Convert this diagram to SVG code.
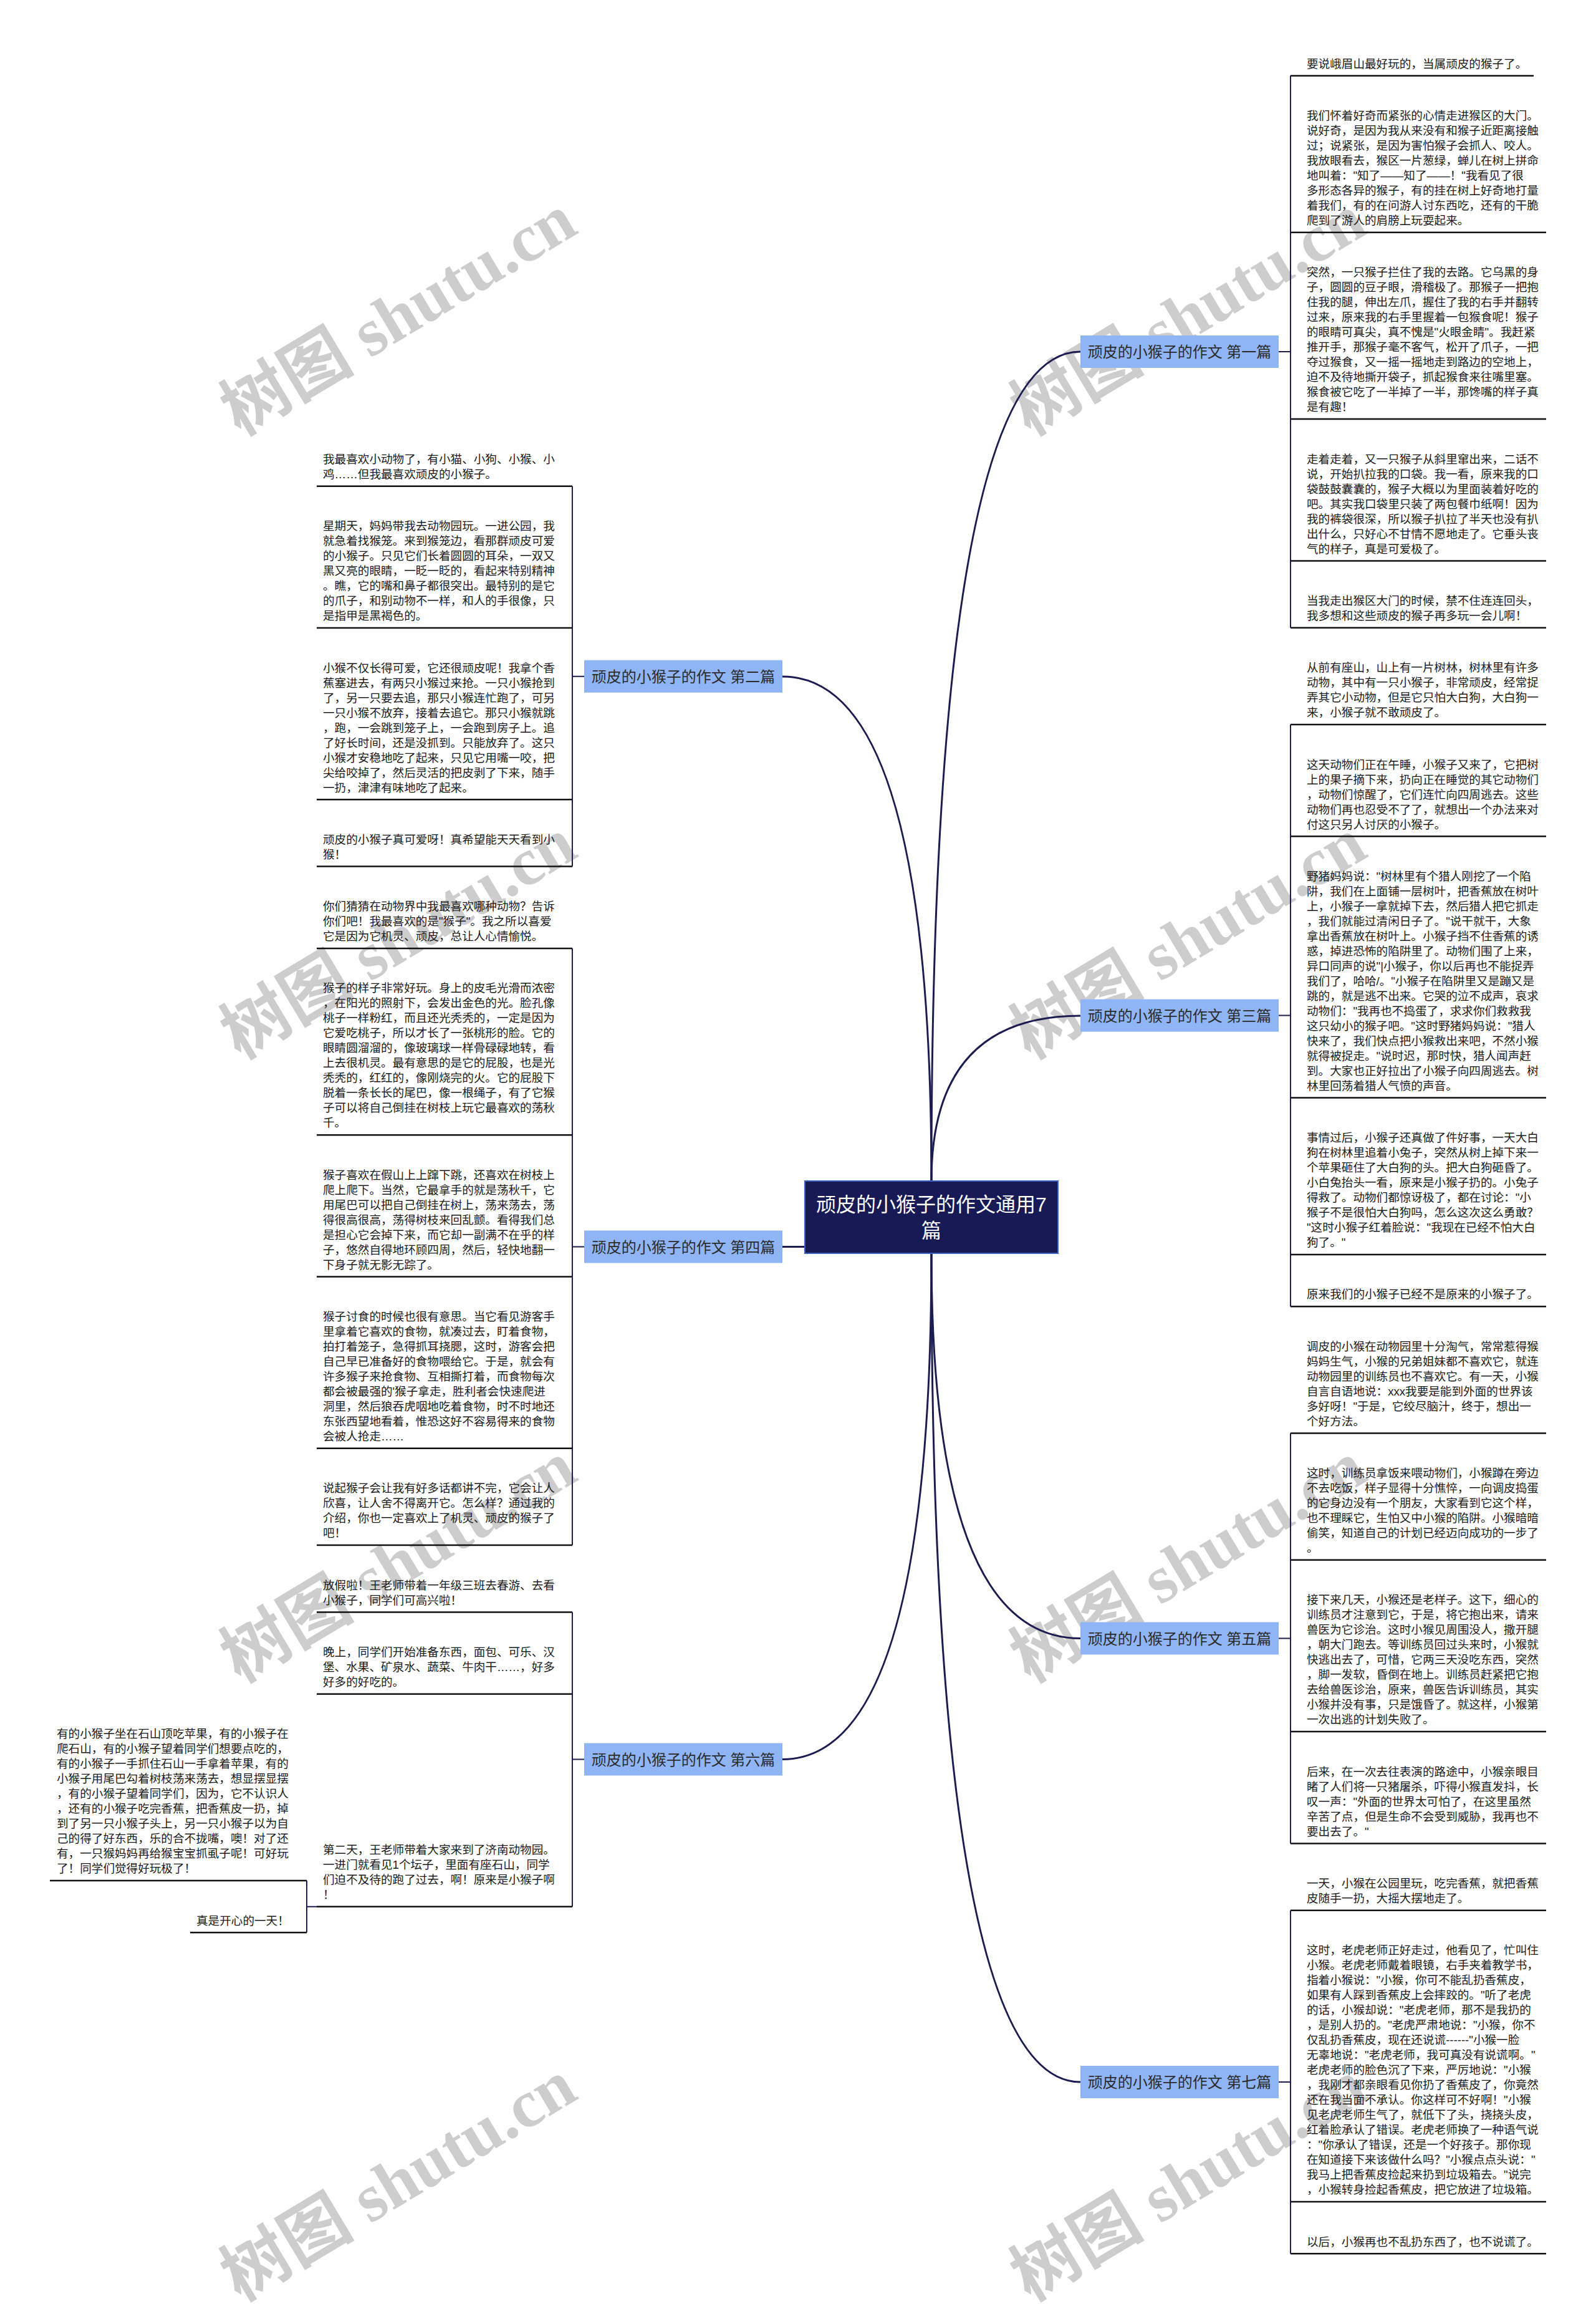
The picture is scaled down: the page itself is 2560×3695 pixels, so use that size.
<svg xmlns="http://www.w3.org/2000/svg" width="2560" height="3695" viewBox="0 0 2560 3695">
<style>
.t{font-family:"Liberation Sans","Noto Sans CJK SC",sans-serif;font-size:18.6px;fill:#1a1a1a}
.b{font-family:"Liberation Sans","Noto Sans CJK SC",sans-serif;font-size:24px;fill:#2b2b2b;text-anchor:middle}
.c{font-family:"Liberation Sans","Noto Sans CJK SC",sans-serif;font-size:32px;fill:#ffffff;text-anchor:middle}
.ul{stroke:#111111;stroke-width:2.5;fill:none}
.br{stroke:#1b1c50;stroke-width:2;fill:none}
.cv{stroke:#1b1c50;stroke-width:3;fill:none}
.bx{fill:#8fb5f6}
.wm{font-family:"Liberation Serif","Noto Sans CJK SC",serif;font-size:108px;font-weight:bold;fill:#cdcdcd}
</style>
<rect width="2560" height="3695" fill="#ffffff"/>
<g id="watermarks">
<text class="wm" transform="translate(385,700) rotate(-31)">树图 shutu.cn</text>
<text class="wm" transform="translate(1652,700) rotate(-31)">树图 shutu.cn</text>
<text class="wm" transform="translate(385,1700) rotate(-31)">树图 shutu.cn</text>
<text class="wm" transform="translate(1652,1700) rotate(-31)">树图 shutu.cn</text>
<text class="wm" transform="translate(385,2700) rotate(-31)">树图 shutu.cn</text>
<text class="wm" transform="translate(1652,2700) rotate(-31)">树图 shutu.cn</text>
<text class="wm" transform="translate(385,3692) rotate(-31)">树图 shutu.cn</text>
<text class="wm" transform="translate(1652,3692) rotate(-31)">树图 shutu.cn</text>
</g>
<g id="connectors">
<path class="cv" d="M1494,1894 C1494,1007 1574,564 1733,564"/>
<path class="cv" d="M1494,1894 C1494,1354 1414,1085 1255,1085"/>
<path class="cv" d="M1494,1894 C1494,1717 1574,1629 1733,1629"/>
<path class="cv" d="M1255,1999.5 L1291,1999.5"/>
<path class="cv" d="M1494,2010 C1494,2422 1574,2627.5 1733,2627.5"/>
<path class="cv" d="M1494,2010 C1494,2551 1414,2821.5 1255,2821.5"/>
<path class="cv" d="M1494,2010 C1494,2896 1574,3339 1733,3339"/>
<path class="br" d="M2051,564 H2070 M2070,121.5 V1006.7"/>
<path class="br" d="M2051,1628.6 H2070 M2070,1162 V2095.2"/>
<path class="br" d="M2051,2627.5 H2070 M2070,2298.5 V2956.4"/>
<path class="br" d="M2051,3339 H2070 M2070,3063.7 V3614.3"/>
<path class="br" d="M937,1084.7 H918 M918,779.7 V1389.6"/>
<path class="br" d="M937,1999.5 H918 M918,1520.9 V2478.1"/>
<path class="br" d="M937,2821.5 H918 M918,2585.4 V3057.7"/>
<path class="br" d="M508,3057.7 H492 M492,3016 V3099.3"/>
</g>
<g id="center">
<rect x="1291" y="1894" width="406" height="116" fill="#171a55" stroke="#3f5fc0" stroke-width="2"/>
<text class="c" x="1494" y="1943">顽皮的小猴子的作文通用7</text>
<text class="c" x="1494" y="1985">篇</text>
</g>
<g id="branch1"><rect class="bx" x="1733" y="538" width="318" height="52"/><text class="b" x="1892" y="573">顽皮的小猴子的作文 第一篇</text></g>
<g id="branch2"><rect class="bx" x="937" y="1058.7" width="318" height="52"/><text class="b" x="1096" y="1093.7">顽皮的小猴子的作文 第二篇</text></g>
<g id="branch3"><rect class="bx" x="1733" y="1602.6" width="318" height="52"/><text class="b" x="1892" y="1637.6">顽皮的小猴子的作文 第三篇</text></g>
<g id="branch4"><rect class="bx" x="937" y="1973.5" width="318" height="52"/><text class="b" x="1096" y="2008.5">顽皮的小猴子的作文 第四篇</text></g>
<g id="branch5"><rect class="bx" x="1733" y="2601.5" width="318" height="52"/><text class="b" x="1892" y="2636.5">顽皮的小猴子的作文 第五篇</text></g>
<g id="branch6"><rect class="bx" x="937" y="2795.5" width="318" height="52"/><text class="b" x="1096" y="2830.5">顽皮的小猴子的作文 第六篇</text></g>
<g id="branch7"><rect class="bx" x="1733" y="3313" width="318" height="52"/><text class="b" x="1892" y="3348">顽皮的小猴子的作文 第七篇</text></g>

<g id="r1"><text class="t" x="2096" y="108.7">要说峨眉山最好玩的，当属顽皮的猴子了。</text><path class="ul" d="M2070,121.5 H2460"/></g>
<g id="r2"><text class="t" x="2096" y="192"><tspan x="2096">我们怀着好奇而紧张的心情走进猴区的大门。</tspan><tspan x="2096" dy="24">说好奇，是因为我从来没有和猴子近距离接触</tspan><tspan x="2096" dy="24">过；说紧张，是因为害怕猴子会抓人、咬人。</tspan><tspan x="2096" dy="24">我放眼看去，猴区一片葱绿，蝉儿在树上拼命</tspan><tspan x="2096" dy="24">地叫着："知了——知了——！"我看见了很</tspan><tspan x="2096" dy="24">多形态各异的猴子，有的挂在树上好奇地打量</tspan><tspan x="2096" dy="24">着我们，有的在问游人讨东西吃，还有的干脆</tspan><tspan x="2096" dy="24">爬到了游人的肩膀上玩耍起来。</tspan></text><path class="ul" d="M2070,372.8 H2480"/></g>
<g id="r3"><text class="t" x="2096" y="443.3"><tspan x="2096">突然，一只猴子拦住了我的去路。它乌黑的身</tspan><tspan x="2096" dy="24">子，圆圆的豆子眼，滑稽极了。那猴子一把抱</tspan><tspan x="2096" dy="24">住我的腿，伸出左爪，握住了我的右手并翻转</tspan><tspan x="2096" dy="24">过来，原来我的右手里握着一包猴食呢！猴子</tspan><tspan x="2096" dy="24">的眼睛可真尖，真不愧是"火眼金睛"。我赶紧</tspan><tspan x="2096" dy="24">推开手，那猴子毫不客气，松开了爪子，一把</tspan><tspan x="2096" dy="24">夺过猴食，又一摇一摇地走到路边的空地上，</tspan><tspan x="2096" dy="24">迫不及待地撕开袋子，抓起猴食来往嘴里塞。</tspan><tspan x="2096" dy="24">猴食被它吃了一半掉了一半，那馋嘴的样子真</tspan><tspan x="2096" dy="24">是有趣！</tspan></text><path class="ul" d="M2070,672.1 H2480"/></g>
<g id="r4"><text class="t" x="2096" y="742.6"><tspan x="2096">走着走着，又一只猴子从斜里窜出来，二话不</tspan><tspan x="2096" dy="24">说，开始扒拉我的口袋。我一看，原来我的口</tspan><tspan x="2096" dy="24">袋鼓鼓囊囊的，猴子大概以为里面装着好吃的</tspan><tspan x="2096" dy="24">吧。其实我口袋里只装了两包餐巾纸啊！因为</tspan><tspan x="2096" dy="24">我的裤袋很深，所以猴子扒拉了半天也没有扒</tspan><tspan x="2096" dy="24">出什么，只好心不甘情不愿地走了。它垂头丧</tspan><tspan x="2096" dy="24">气的样子，真是可爱极了。</tspan></text><path class="ul" d="M2070,899.4 H2480"/></g>
<g id="r5"><text class="t" x="2096" y="969.9"><tspan x="2096">当我走出猴区大门的时候，禁不住连连回头，</tspan><tspan x="2096" dy="24">我多想和这些顽皮的猴子再多玩一会儿啊！</tspan></text><path class="ul" d="M2070,1006.7 H2480"/></g>
<g id="r6"><text class="t" x="2096" y="1077.2"><tspan x="2096">从前有座山，山上有一片树林，树林里有许多</tspan><tspan x="2096" dy="24">动物，其中有一只小猴子，非常顽皮，经常捉</tspan><tspan x="2096" dy="24">弄其它小动物，但是它只怕大白狗，大白狗一</tspan><tspan x="2096" dy="24">来，小猴子就不敢顽皮了。</tspan></text><path class="ul" d="M2070,1162 H2480"/></g>
<g id="r7"><text class="t" x="2096" y="1232.5"><tspan x="2096">这天动物们正在午睡，小猴子又来了，它把树</tspan><tspan x="2096" dy="24">上的果子摘下来，扔向正在睡觉的其它动物们</tspan><tspan x="2096" dy="24">，动物们惊醒了，它们连忙向四周逃去。这些</tspan><tspan x="2096" dy="24">动物们再也忍受不了了，就想出一个办法来对</tspan><tspan x="2096" dy="24">付这只另人讨厌的小猴子。</tspan></text><path class="ul" d="M2070,1341.3 H2480"/></g>
<g id="r8"><text class="t" x="2096" y="1411.8"><tspan x="2096">野猪妈妈说："树林里有个猎人刚挖了一个陷</tspan><tspan x="2096" dy="24">阱，我们在上面铺一层树叶，把香蕉放在树叶</tspan><tspan x="2096" dy="24">上，小猴子一拿就掉下去，然后猎人把它抓走</tspan><tspan x="2096" dy="24">，我们就能过清闲日子了。"说干就干，大象</tspan><tspan x="2096" dy="24">拿出香蕉放在树叶上。小猴子挡不住香蕉的诱</tspan><tspan x="2096" dy="24">惑，掉进恐怖的陷阱里了。动物们围了上来，</tspan><tspan x="2096" dy="24">异口同声的说"|小猴子，你以后再也不能捉弄</tspan><tspan x="2096" dy="24">我们了，哈哈/。"小猴子在陷阱里又是蹦又是</tspan><tspan x="2096" dy="24">跳的，就是逃不出来。它哭的泣不成声，哀求</tspan><tspan x="2096" dy="24">动物们："我再也不捣蛋了，求求你们救救我</tspan><tspan x="2096" dy="24">这只幼小的猴子吧。"这时野猪妈妈说："猎人</tspan><tspan x="2096" dy="24">快来了，我们快点把小猴救出来吧，不然小猴</tspan><tspan x="2096" dy="24">就得被捉走。"说时迟，那时快，猎人闻声赶</tspan><tspan x="2096" dy="24">到。大家也正好拉出了小猴子向四周逃去。树</tspan><tspan x="2096" dy="24">林里回荡着猎人气愤的声音。</tspan></text><path class="ul" d="M2070,1760.6 H2480"/></g>
<g id="r9"><text class="t" x="2096" y="1831.1"><tspan x="2096">事情过后，小猴子还真做了件好事，一天大白</tspan><tspan x="2096" dy="24">狗在树林里追着小兔子，突然从树上掉下来一</tspan><tspan x="2096" dy="24">个苹果砸住了大白狗的头。把大白狗砸昏了。</tspan><tspan x="2096" dy="24">小白兔抬头一看，原来是小猴子扔的。小兔子</tspan><tspan x="2096" dy="24">得救了。动物们都惊讶极了，都在讨论："小</tspan><tspan x="2096" dy="24">猴子不是很怕大白狗吗，怎么这次这么勇敢？</tspan><tspan x="2096" dy="24">"这时小猴子红着脸说："我现在已经不怕大白</tspan><tspan x="2096" dy="24">狗了。"</tspan></text><path class="ul" d="M2070,2011.9 H2480"/></g>
<g id="r10"><text class="t" x="2096" y="2082.4">原来我们的小猴子已经不是原来的小猴子了。</text><path class="ul" d="M2070,2095.2 H2480"/></g>
<g id="r11"><text class="t" x="2096" y="2165.7"><tspan x="2096">调皮的小猴在动物园里十分淘气，常常惹得猴</tspan><tspan x="2096" dy="24">妈妈生气，小猴的兄弟姐妹都不喜欢它，就连</tspan><tspan x="2096" dy="24">动物园里的训练员也不喜欢它。有一天，小猴</tspan><tspan x="2096" dy="24">自言自语地说：xxx我要是能到外面的世界该</tspan><tspan x="2096" dy="24">多好呀！"于是，它绞尽脑汁，终于，想出一</tspan><tspan x="2096" dy="24">个好方法。</tspan></text><path class="ul" d="M2070,2298.5 H2480"/></g>
<g id="r12"><text class="t" x="2096" y="2369"><tspan x="2096">这时，训练员拿饭来喂动物们，小猴蹲在旁边</tspan><tspan x="2096" dy="24">不去吃饭，样子显得十分憔悴，一向调皮捣蛋</tspan><tspan x="2096" dy="24">的它身边没有一个朋友，大家看到它这个样，</tspan><tspan x="2096" dy="24">也不理睬它，生怕又中小猴的陷阱。小猴暗暗</tspan><tspan x="2096" dy="24">偷笑，知道自己的计划已经迈向成功的一步了</tspan><tspan x="2096" dy="24">。</tspan></text><path class="ul" d="M2070,2501.8 H2480"/></g>
<g id="r13"><text class="t" x="2096" y="2572.3"><tspan x="2096">接下来几天，小猴还是老样子。这下，细心的</tspan><tspan x="2096" dy="24">训练员才注意到它，于是，将它抱出来，请来</tspan><tspan x="2096" dy="24">兽医为它诊治。这时小猴见周围没人，撒开腿</tspan><tspan x="2096" dy="24">，朝大门跑去。等训练员回过头来时，小猴就</tspan><tspan x="2096" dy="24">快逃出去了，可惜，它两三天没吃东西，突然</tspan><tspan x="2096" dy="24">，脚一发软，昏倒在地上。训练员赶紧把它抱</tspan><tspan x="2096" dy="24">去给兽医诊治，原来，兽医告诉训练员，其实</tspan><tspan x="2096" dy="24">小猴并没有事，只是饿昏了。就这样，小猴第</tspan><tspan x="2096" dy="24">一次出逃的计划失败了。</tspan></text><path class="ul" d="M2070,2777.1 H2480"/></g>
<g id="r14"><text class="t" x="2096" y="2847.6"><tspan x="2096">后来，在一次去往表演的路途中，小猴亲眼目</tspan><tspan x="2096" dy="24">睹了人们将一只猪屠杀，吓得小猴直发抖，长</tspan><tspan x="2096" dy="24">叹一声："外面的世界太可怕了，在这里虽然</tspan><tspan x="2096" dy="24">辛苦了点，但是生命不会受到威胁，我再也不</tspan><tspan x="2096" dy="24">要出去了。"</tspan></text><path class="ul" d="M2070,2956.4 H2480"/></g>
<g id="r15"><text class="t" x="2096" y="3026.9"><tspan x="2096">一天，小猴在公园里玩，吃完香蕉，就把香蕉</tspan><tspan x="2096" dy="24">皮随手一扔，大摇大摆地走了。</tspan></text><path class="ul" d="M2070,3063.7 H2480"/></g>
<g id="r16"><text class="t" x="2096" y="3134.2"><tspan x="2096">这时，老虎老师正好走过，他看见了，忙叫住</tspan><tspan x="2096" dy="24">小猴。老虎老师戴着眼镜，右手夹着教学书，</tspan><tspan x="2096" dy="24">指着小猴说："小猴，你可不能乱扔香蕉皮，</tspan><tspan x="2096" dy="24">如果有人踩到香蕉皮上会摔跤的。"听了老虎</tspan><tspan x="2096" dy="24">的话，小猴却说："老虎老师，那不是我扔的</tspan><tspan x="2096" dy="24">，是别人扔的。"老虎严肃地说："小猴，你不</tspan><tspan x="2096" dy="24">仅乱扔香蕉皮，现在还说谎------"小猴一脸</tspan><tspan x="2096" dy="24">无辜地说："老虎老师，我可真没有说谎啊。"</tspan><tspan x="2096" dy="24">老虎老师的脸色沉了下来，严厉地说："小猴</tspan><tspan x="2096" dy="24">，我刚才都亲眼看见你扔了香蕉皮了，你竟然</tspan><tspan x="2096" dy="24">还在我当面不承认。你这样可不好啊！"小猴</tspan><tspan x="2096" dy="24">见老虎老师生气了，就低下了头，挠挠头皮，</tspan><tspan x="2096" dy="24">红着脸承认了错误。老虎老师换了一种语气说</tspan><tspan x="2096" dy="24">："你承认了错误，还是一个好孩子。那你现</tspan><tspan x="2096" dy="24">在知道接下来该做什么吗？"小猴点点头说："</tspan><tspan x="2096" dy="24">我马上把香蕉皮捡起来扔到垃圾箱去。"说完</tspan><tspan x="2096" dy="24">，小猴转身捡起香蕉皮，把它放进了垃圾箱。</tspan></text><path class="ul" d="M2070,3531 H2480"/></g>
<g id="r17"><text class="t" x="2096" y="3601.5">以后，小猴再也不乱扔东西了，也不说谎了。</text><path class="ul" d="M2070,3614.3 H2480"/></g>

<g id="l1"><text class="t" x="518" y="742.9"><tspan x="518">我最喜欢小动物了，有小猫、小狗、小猴、小</tspan><tspan x="518" dy="24">鸡……但我最喜欢顽皮的小猴子。</tspan></text><path class="ul" d="M508,779.7 H918"/></g>
<g id="l2"><text class="t" x="518" y="850.2"><tspan x="518">星期天，妈妈带我去动物园玩。一进公园，我</tspan><tspan x="518" dy="24">就急着找猴笼。来到猴笼边，看那群顽皮可爱</tspan><tspan x="518" dy="24">的小猴子。只见它们长着圆圆的耳朵，一双又</tspan><tspan x="518" dy="24">黑又亮的眼睛，一眨一眨的，看起来特别精神</tspan><tspan x="518" dy="24">。瞧，它的嘴和鼻子都很突出。最特别的是它</tspan><tspan x="518" dy="24">的爪子，和别动物不一样，和人的手很像，只</tspan><tspan x="518" dy="24">是指甲是黑褐色的。</tspan></text><path class="ul" d="M508,1007 H918"/></g>
<g id="l3"><text class="t" x="518" y="1077.5"><tspan x="518">小猴不仅长得可爱，它还很顽皮呢！我拿个香</tspan><tspan x="518" dy="24">蕉塞进去，有两只小猴过来抢。一只小猴抢到</tspan><tspan x="518" dy="24">了，另一只要去追，那只小猴连忙跑了，可另</tspan><tspan x="518" dy="24">一只小猴不放弃，接着去追它。那只小猴就跳</tspan><tspan x="518" dy="24">，跑，一会跳到笼子上，一会跑到房子上。追</tspan><tspan x="518" dy="24">了好长时间，还是没抓到。只能放弃了。这只</tspan><tspan x="518" dy="24">小猴才安稳地吃了起来，只见它用嘴一咬，把</tspan><tspan x="518" dy="24">尖给咬掉了，然后灵活的把皮剥了下来，随手</tspan><tspan x="518" dy="24">一扔，津津有味地吃了起来。</tspan></text><path class="ul" d="M508,1282.3 H918"/></g>
<g id="l4"><text class="t" x="518" y="1352.8"><tspan x="518">顽皮的小猴子真可爱呀！真希望能天天看到小</tspan><tspan x="518" dy="24">猴！</tspan></text><path class="ul" d="M508,1389.6 H918"/></g>
<g id="l5"><text class="t" x="518" y="1460.1"><tspan x="518">你们猜猜在动物界中我最喜欢哪种动物？告诉</tspan><tspan x="518" dy="24">你们吧！我最喜欢的是"猴子"。我之所以喜爱</tspan><tspan x="518" dy="24">它是因为它机灵、顽皮，总让人心情愉悦。</tspan></text><path class="ul" d="M508,1520.9 H918"/></g>
<g id="l6"><text class="t" x="518" y="1591.4"><tspan x="518">猴子的样子非常好玩。身上的皮毛光滑而浓密</tspan><tspan x="518" dy="24">，在阳光的照射下，会发出金色的光。脸孔像</tspan><tspan x="518" dy="24">桃子一样粉红，而且还光秃秃的，一定是因为</tspan><tspan x="518" dy="24">它爱吃桃子，所以才长了一张桃形的脸。它的</tspan><tspan x="518" dy="24">眼睛圆溜溜的，像玻璃球一样骨碌碌地转，看</tspan><tspan x="518" dy="24">上去很机灵。最有意思的是它的屁股，也是光</tspan><tspan x="518" dy="24">秃秃的，红红的，像刚烧完的火。它的屁股下</tspan><tspan x="518" dy="24">脱着一条长长的尾巴，像一根绳子，有了它猴</tspan><tspan x="518" dy="24">子可以将自己倒挂在树枝上玩它最喜欢的荡秋</tspan><tspan x="518" dy="24">千。</tspan></text><path class="ul" d="M508,1820.2 H918"/></g>
<g id="l7"><text class="t" x="518" y="1890.7"><tspan x="518">猴子喜欢在假山上上蹿下跳，还喜欢在树枝上</tspan><tspan x="518" dy="24">爬上爬下。当然，它最拿手的就是荡秋千，它</tspan><tspan x="518" dy="24">用尾巴可以把自己倒挂在树上，荡来荡去，荡</tspan><tspan x="518" dy="24">得很高很高，荡得树枝来回乱颤。看得我们总</tspan><tspan x="518" dy="24">是担心它会掉下来，而它却一副满不在乎的样</tspan><tspan x="518" dy="24">子，悠然自得地环顾四周，然后，轻快地翻一</tspan><tspan x="518" dy="24">下身子就无影无踪了。</tspan></text><path class="ul" d="M508,2047.5 H918"/></g>
<g id="l8"><text class="t" x="518" y="2118"><tspan x="518">猴子讨食的时候也很有意思。当它看见游客手</tspan><tspan x="518" dy="24">里拿着它喜欢的食物，就凑过去，盯着食物，</tspan><tspan x="518" dy="24">拍打着笼子，急得抓耳挠腮，这时，游客会把</tspan><tspan x="518" dy="24">自己早已准备好的食物喂给它。于是，就会有</tspan><tspan x="518" dy="24">许多猴子来抢食物、互相撕打着，而食物每次</tspan><tspan x="518" dy="24">都会被最强的'猴子拿走，胜利者会快速爬进</tspan><tspan x="518" dy="24">洞里，然后狼吞虎咽地吃着食物，时不时地还</tspan><tspan x="518" dy="24">东张西望地看着，惟恐这好不容易得来的食物</tspan><tspan x="518" dy="24">会被人抢走……</tspan></text><path class="ul" d="M508,2322.8 H918"/></g>
<g id="l9"><text class="t" x="518" y="2393.3"><tspan x="518">说起猴子会让我有好多话都讲不完，它会让人</tspan><tspan x="518" dy="24">欣喜，让人舍不得离开它。怎么样？通过我的</tspan><tspan x="518" dy="24">介绍，你也一定喜欢上了机灵、顽皮的猴子了</tspan><tspan x="518" dy="24">吧！</tspan></text><path class="ul" d="M508,2478.1 H918"/></g>
<g id="l10"><text class="t" x="518" y="2548.6"><tspan x="518">放假啦！王老师带着一年级三班去春游、去看</tspan><tspan x="518" dy="24">小猴子，同学们可高兴啦！</tspan></text><path class="ul" d="M508,2585.4 H918"/></g>
<g id="l11"><text class="t" x="518" y="2655.9"><tspan x="518">晚上，同学们开始准备东西，面包、可乐、汉</tspan><tspan x="518" dy="24">堡、水果、矿泉水、蔬菜、牛肉干……，好多</tspan><tspan x="518" dy="24">好多的好吃的。</tspan></text><path class="ul" d="M508,2716.7 H918"/></g>
<g id="l12"><text class="t" x="518" y="2972.9"><tspan x="518">第二天，王老师带着大家来到了济南动物园。</tspan><tspan x="518" dy="24">一进门就看见1个坛子，里面有座石山，同学</tspan><tspan x="518" dy="24">们迫不及待的跑了过去，啊！原来是小猴子啊</tspan><tspan x="518" dy="24">！</tspan></text><path class="ul" d="M508,3057.7 H918"/></g>
<g id="l13"><text class="t" x="91" y="2787.2"><tspan x="91">有的小猴子坐在石山顶吃苹果，有的小猴子在</tspan><tspan x="91" dy="24">爬石山，有的小猴子望着同学们想要点吃的，</tspan><tspan x="91" dy="24">有的小猴子一手抓住石山一手拿着苹果，有的</tspan><tspan x="91" dy="24">小猴子用尾巴勾着树枝荡来荡去，想显摆显摆</tspan><tspan x="91" dy="24">，有的小猴子望着同学们，因为，它不认识人</tspan><tspan x="91" dy="24">，还有的小猴子吃完香蕉，把香蕉皮一扔，掉</tspan><tspan x="91" dy="24">到了另一只小猴子头上，另一只小猴子以为自</tspan><tspan x="91" dy="24">己的得了好东西，乐的合不拢嘴，噢！对了还</tspan><tspan x="91" dy="24">有，一只猴妈妈再给猴宝宝抓虱子呢！可好玩</tspan><tspan x="91" dy="24">了！同学们觉得好玩极了！</tspan></text><path class="ul" d="M80,3016 H492"/></g>
<g id="l14"><text class="t" x="315" y="3086.5">真是开心的一天！</text><path class="ul" d="M305,3099.3 H492"/></g>
</svg>
